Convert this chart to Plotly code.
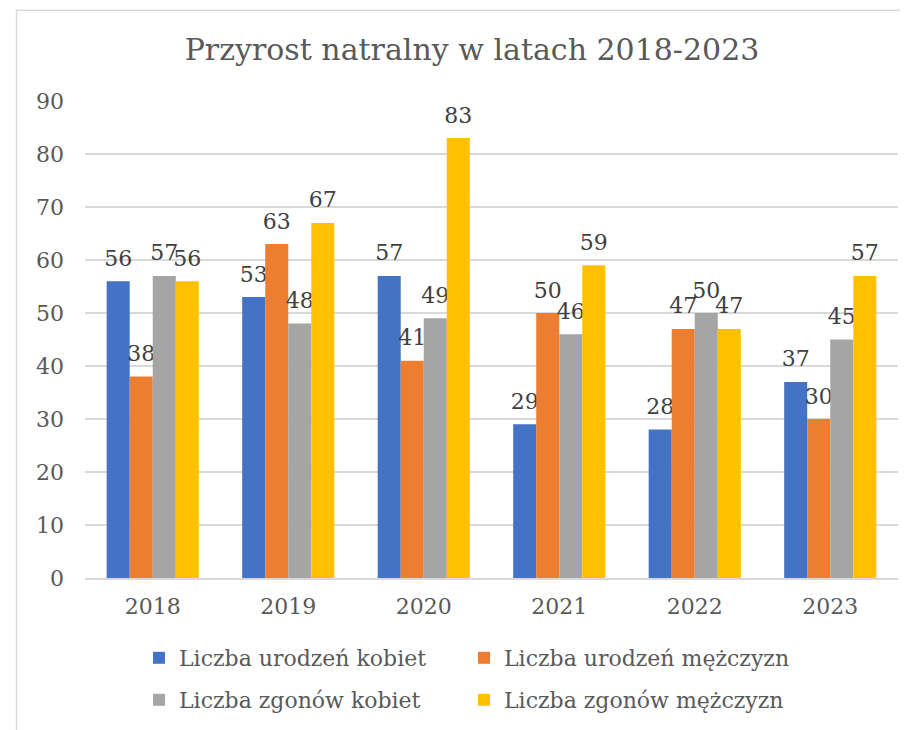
import plotly.graph_objects as go

years = ["2018", "2019", "2020", "2021", "2022", "2023"]
urodzenia_kobiet = [56, 53, 57, 29, 28, 37]
urodzenia_mezczyzn = [38, 63, 41, 50, 47, 30]
zgony_kobiet = [57, 48, 49, 46, 50, 45]
zgony_mezczyzn = [56, 67, 83, 59, 47, 57]

series = [
    ("Liczba urodzeń kobiet", urodzenia_kobiet, "#4472C4", "legend"),
    ("Liczba urodzeń mężczyzn", urodzenia_mezczyzn, "#ED7D31", "legend"),
    ("Liczba zgonów kobiet", zgony_kobiet, "#A5A5A5", "legend2"),
    ("Liczba zgonów mężczyzn", zgony_mezczyzn, "#FFC000", "legend2"),
]

FONT = "DejaVu Serif"

fig = go.Figure()
for name, vals, color, leg in series:
    fig.add_trace(go.Bar(
        x=years, y=vals, name=name,
        marker=dict(color=color, line=dict(width=0)),
        text=vals, textposition="outside",
        # small outer font + empty second line lifts the label off the bar a bit
        texttemplate="<span style='font-size:22px'>%{text}</span><br> ",
        textfont=dict(family=FONT, size=8, color="#404040"),
        constraintext="none", cliponaxis=False,
        legend=leg,
    ))

# page is drawn with an 8px offset, so the figure is 8px smaller
W, H = 900, 722
L, R, T, B = 77, 10, 93, 151
pw, ph = W - L - R, H - T - B

def leg(ypx):
    return dict(orientation="h", x=(131 - L) / pw, xanchor="left",
                y=-(ypx - (H - B)) / ph, yanchor="middle",
                entrywidth=280, entrywidthmode="pixels",
                font=dict(family=FONT, size=22, color="#595959"),
                itemwidth=30, traceorder="normal")

fig.update_layout(
    width=W, height=H,
    margin=dict(l=L, r=R, t=T, b=B),
    paper_bgcolor="white", plot_bgcolor="white",
    barmode="group", bargap=0.32, bargroupgap=0,
    title=dict(text="Przyrost natralny w latach 2018-2023",
               font=dict(family=FONT, size=30, color="#595959"),
               xref="container", x=464 / W, xanchor="center",
               y=1 - 41 / H, yanchor="middle"),
    font=dict(family=FONT, color="#595959"),
    legend=leg(650),
    legend2=leg(692),
    shapes=[dict(type="rect", xref="paper", yref="paper",
                 x0=(8.5 - L) / pw, x1=(W + 20 - L) / pw,
                 y0=-(H + 20 - (H - B)) / ph, y1=((H - B) - 2) / ph,
                 line=dict(color="#D9D9D9", width=1.5), layer="below")],
)

fig.update_xaxes(showgrid=False, showline=True, linecolor="#D9D9D9", linewidth=1.5,
                 ticks="", ticklabelstandoff=8,
                 tickfont=dict(family=FONT, size=22, color="#595959"))
fig.update_yaxes(range=[0, 90], dtick=10, showgrid=True, gridcolor="#D9D9D9", gridwidth=1.5,
                 zeroline=False, showline=False, ticks="", ticklabelstandoff=20,
                 tickfont=dict(family=FONT, size=22, color="#595959"))

fig.write_html("out.html")
